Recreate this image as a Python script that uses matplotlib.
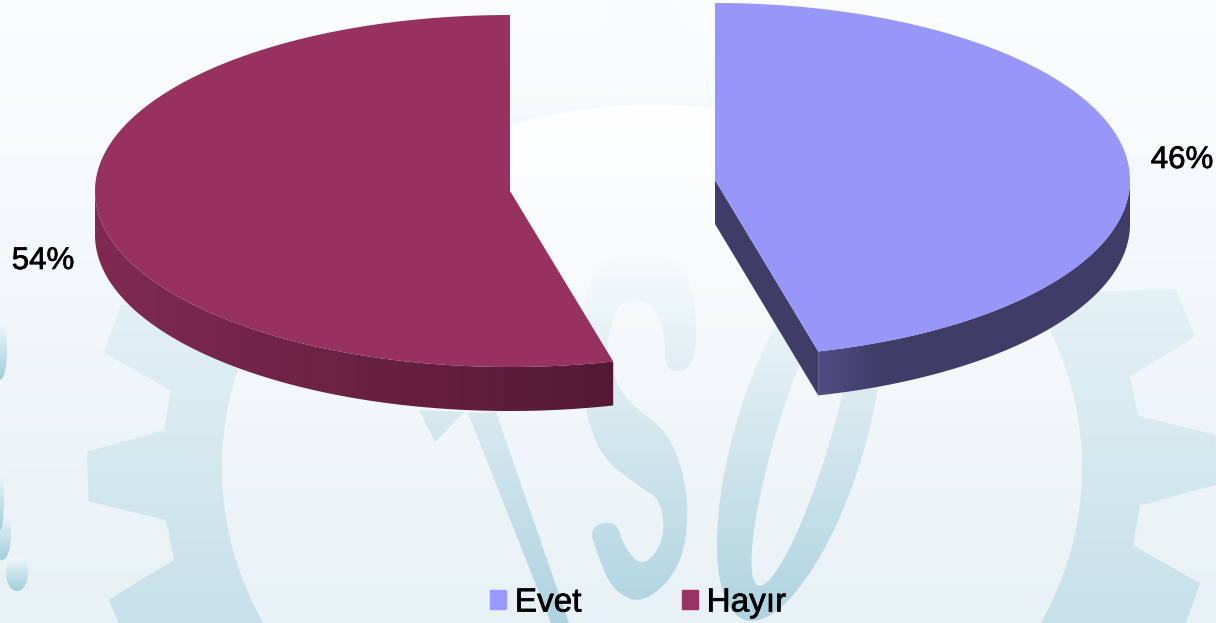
import numpy as np
import matplotlib
matplotlib.use("Agg")
import matplotlib.pyplot as plt
import matplotlib.patheffects as pe
from matplotlib.patches import Patch, PathPatch
from matplotlib.path import Path

# chart data
categories = ["Evet", "Hayır"]
shares = [46, 54]
share_labels = ["46%", "54%"]

W, H = 1216, 623
plt.rcParams["font.family"] = ["Liberation Sans", "DejaVu Sans"]

fig = plt.figure(figsize=(W / 100, H / 100), dpi=100)
ax = fig.add_axes([0, 0, 1, 1])
ax.set_xlim(0, W)
ax.set_ylim(H, 0)
ax.axis("off")


def paint(path, first, last, z, span=(0, H), horizontal=False):
    # fill a path with a linear colour ramp by clipping an image to it
    n = W if horizontal else H
    ramp = np.clip((np.arange(n) - span[0]) / (span[1] - span[0]), 0, 1)
    ramp = ramp[None, :, None] if horizontal else ramp[:, None, None]
    img = (np.array(first) + (np.array(last) - np.array(first)) * ramp) / 255
    im = ax.imshow(img, extent=(0, W, H, 0), aspect="auto", zorder=z)
    if path is not None:
        patch = PathPatch(path, fc="none", ec="none", transform=ax.transData)
        ax.add_patch(patch)
        im.set_clip_path(patch)


def closed(points):
    pts = np.asarray(points, dtype=float)
    pts = np.vstack([pts, pts[:1]])
    codes = [Path.MOVETO] + [Path.LINETO] * (len(pts) - 2) + [Path.CLOSEPOLY]
    return Path(pts, codes)


def smooth(points, rounds=2):
    # corner cutting so hand-read outlines look like letter curves
    pts = np.asarray(points, dtype=float)
    for _ in range(rounds):
        nxt = np.roll(pts, -1, axis=0)
        pts = np.column_stack([0.75 * pts + 0.25 * nxt, 0.25 * pts + 0.75 * nxt]).reshape(-1, 2)
    return pts


def ellipse(cx, cy, rx, ry, tilt=0, n=180):
    t = np.radians(np.linspace(0, 360, n, endpoint=False))
    x, y = rx * np.cos(t), ry * np.sin(t)
    a = np.radians(tilt)
    return np.column_stack([cx + x * np.cos(a) - y * np.sin(a), cy + x * np.sin(a) + y * np.cos(a)])


# background and watermark
paint(None, (251, 253, 254), (232, 241, 245), 0)

gx, gy = 652, 468
root_x, root_y, tip_x, tip_y = 490, 414, 565, 477
gear = []
for c in np.arange(0, 360, 18):
    for da, rx, ry in [(-6.2, root_x, root_y), (-3, tip_x, tip_y), (3, tip_x, tip_y), (6.2, root_x, root_y)]:
        a = np.radians(c + da - 1)
        gear.append((gx + rx * np.cos(a), gy + ry * np.sin(a)))
hole = ellipse(gx, gy, 430, 363)
paint(Path.make_compound_path(closed(gear), closed(hole[::-1])), (249, 252, 253), (198, 225, 234), 1, span=(60, H))
paint(closed(hole), (255, 255, 255), (232, 241, 245), 1, span=(105, H))

letter_i = [(468, 413), (496, 412), (569, 623), (551, 623)]
serif_i = [(419, 410), (464, 412), (435, 442)]
letter_s = [(578, 360), (585, 410), (601, 457), (640, 487), (661, 500), (665, 540), (643, 568),
            (624, 547), (616, 520), (589, 527), (597, 553), (612, 590), (643, 605), (682, 567),
            (690, 500), (671, 433), (624, 400), (608, 360), (608, 333), (620, 300), (651, 300),
            (665, 333), (665, 373), (696, 368), (696, 300), (680, 262), (640, 245), (600, 262), (583, 300)]
letter_col = ((250, 252, 253), (174, 211, 224))
paint(closed(letter_i), *letter_col, 2, span=(240, H))
paint(closed(serif_i), *letter_col, 2, span=(240, H))
paint(closed(smooth(letter_s)), *letter_col, 2, span=(240, H))
ring = Path.make_compound_path(closed(ellipse(800, 437, 65, 191, tilt=16.7)),
                               closed(ellipse(803, 437, 27, 155, tilt=16.7)[::-1]))
paint(ring, *letter_col, 2, span=(240, H))

# droplets on the left edge of the backdrop
for cx, cy, drx, dry in [(17, 573, 11, 18), (2, 535, 9, 25), (0, 350, 7, 30), (0, 500, 4, 30)]:
    paint(closed(ellipse(cx, cy, drx, dry)), (243, 248, 250), (160, 205, 220), 2, span=(cy - dry, cy + dry))

# pie slices
rx, depth = 415, 44
slices = [
    dict(center=(715, 180), ry=177, top="#9797F9", side=((63, 60, 104), (82, 78, 132)), span=(880, 818)),
    dict(center=(510, 191), ry=176, top="#963160", side=((128, 42, 82), (84, 25, 50)), span=(96, 612)),
]

start = 0.0
for share, sl in zip(shares, slices):
    end = start + share / sum(shares) * 360
    cx, cy = sl["center"]
    ry = sl["ry"]
    # clock angle from 12 o'clock on the flattened circle
    ang = np.radians(np.linspace(start, end, 360))
    xs, ys = cx + rx * np.sin(ang), cy - ry * np.cos(ang)

    # rim, only where it faces the viewer
    front = np.cos(ang) < 0
    rim = np.column_stack([np.r_[xs[front], xs[front][::-1]],
                           np.r_[ys[front], ys[front][::-1] + depth]])
    paint(closed(rim), *sl["side"], 3, span=sl["span"], horizontal=True)

    # the first slice opens its cut face towards the viewer
    if start == 0:
        ax.fill([cx, xs[-1], xs[-1], cx], [cy, ys[-1], ys[-1] + depth, cy + depth],
                color=np.array(sl["side"][0]) / 255, lw=0, zorder=3)

    ax.fill(np.r_[cx, xs], np.r_[cy, ys], color=sl["top"], lw=0, zorder=4)
    start = end

# value labels
bold = [pe.withStroke(linewidth=0.5, foreground="black")]
ax.text(1182, 160, share_labels[0], fontsize=22.5, color="black", ha="center", va="center", zorder=5, path_effects=bold)
ax.text(43, 261, share_labels[1], fontsize=22.5, color="black", ha="center", va="center", zorder=5, path_effects=bold)

handles = [Patch(color="#9999FF"), Patch(color="#993366")]
leg = ax.legend(handles, categories, ncol=2, frameon=False, fontsize=24, loc="center",
                bbox_to_anchor=(638, 603), bbox_transform=ax.transData, handlelength=0.5,
                handleheight=0.5, handletextpad=0.25, columnspacing=3.0, borderpad=0, borderaxespad=0)
for t in leg.get_texts():
    t.set_path_effects(bold)

ax.set_xlim(0, W)
ax.set_ylim(H, 0)
fig.savefig("out.png", dpi=100)
